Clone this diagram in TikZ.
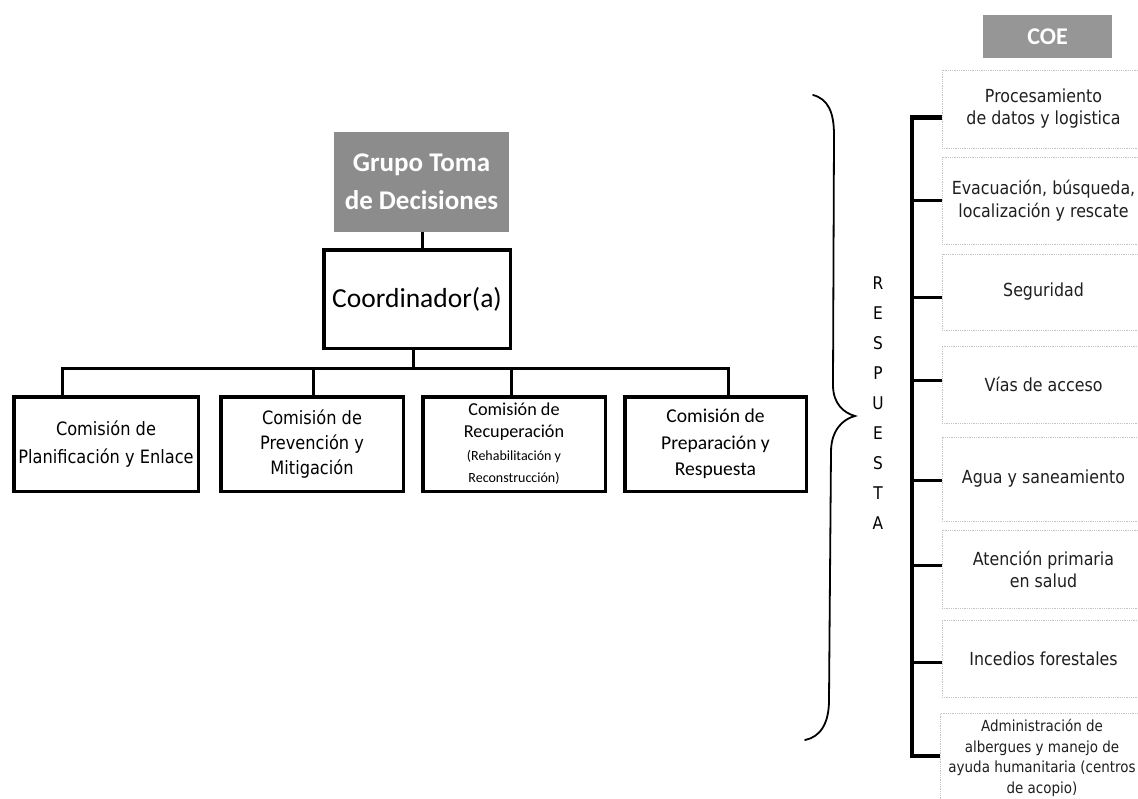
\documentclass[tikz,border=0pt]{standalone}
\usepackage{fontspec}
\newfontfamily\tahfont[FakeStretch=0.88]{DejaVu Sans}
\newfontfamily\califont{Carlito}
\definecolor{boxgray}{RGB}{140,140,140}
\definecolor{coegray}{RGB}{150,150,150}
\definecolor{dotgray}{RGB}{195,195,195}
\begin{document}
\begin{tikzpicture}[x=1pt,y=-1pt,
  graybox/.style={fill=boxgray,draw=none,text=white,inner sep=0pt,align=center},
  coordbox/.style={draw,line width=3.5pt,inner sep=0pt,align=center,line join=miter},
  commbox/.style={draw,line width=3.5pt,inner sep=0pt,align=center,minimum height=94.5pt,line join=miter},
  rbox/.style={draw=dotgray,densely dotted,line width=0.8pt,inner sep=0pt,align=center,minimum width=203pt,text=black!88,
     font={\tahfont\fontsize{18}{22}\selectfont}},
  tree/.style={line width=3pt,line join=miter},
  rbus/.style={line width=4pt,line join=miter},
  tick/.style={line width=3pt},
  bracel/.style={line width=1.8pt,line cap=round}]
\useasboundingbox (0,0) rectangle (1138,798);
\fill[white] (0,0) rectangle (1138,798);

% left tree
\node[graybox,minimum width=175pt,minimum height=100pt,
  font={\califont\bfseries\fontsize{27}{38}\selectfont}] (grupo) at (421.5,182)
  {Grupo Toma\\de Decisiones};
\node[coordbox,minimum width=186.5pt,minimum height=98.5pt,
  font={\califont\fontsize{27.5}{32}\selectfont}] (coord) at (417,299)
  {Coordinador(a)};
\node[commbox,minimum width=184.5pt,font={\tahfont\fontsize{18.4}{28}\selectfont}] (c1) at (106,444)
  {Comisión de\\Planificación y Enlace};
\node[commbox,minimum width=182.5pt,font={\tahfont\fontsize{18.4}{25}\selectfont}] (c2) at (312,444)
  {Comisión de\\Prevención y\\Mitigación};
\node[commbox,minimum width=182.5pt,font={\califont\fontsize{18.2}{22}\selectfont}] (c3) at (514,444)
  {Comisión de\\Recuperación\\[1pt]
   {\fontsize{14}{20}\selectfont (Rehabilitación y}\\{\fontsize{14}{20}\selectfont Reconstrucción)}};
\node[commbox,minimum width=181.5pt,font={\califont\fontsize{19.6}{26.5}\selectfont}] (c4) at (715.5,444)
  {Comisión de\\Preparación y\\Respuesta};

\coordinate (bus) at (413,368);
\draw[tree] ([xshift=0.5pt]grupo.south) -- ([xshift=0.5pt]grupo.south |- coord.north);
\draw[tree] ([xshift=-4pt]coord.south) -- (bus);
\draw[tree] ([xshift=-44pt]c1.north) |- (bus) -| ([xshift=12.5pt]c4.north);
\draw[tree] ([xshift=1pt]c2.north) -- ([xshift=1pt]c2.north |- bus);
\draw[tree] ([xshift=-3pt]c3.north) -- ([xshift=-3pt]c3.north |- bus);

% brace
\draw[bracel] (813,95) .. controls (828,99) and (834,112) .. (834,135)
  -- (833,385) .. controls (833,404) and (844,413) .. (855,416)
  .. controls (843,419) and (831,430) .. (831,452)
  -- (829,700) .. controls (829,724) and (820,737) .. (805,740);

\node[inner sep=0pt,align=center,font={\tahfont\fontsize{17.5}{30}\selectfont}] (resp) at (878,403)
  {R\\E\\S\\P\\U\\E\\S\\T\\A};

% right column
\node[fill=coegray,text=white,minimum width=129pt,minimum height=43pt,inner sep=0pt,
  font={\califont\bfseries\fontsize{24}{28}\selectfont}] (coe) at (1047.5,36.5) {COE};

\node[rbox,minimum height=78pt] (r1) at (1043.5,109) {Procesamiento\\de datos y logistica};
\node[rbox,minimum height=87pt,font={\tahfont\fontsize{18}{23}\selectfont}] (r2) at (1043.5,200.5)
  {Evacuación, búsqueda,\\localización y rescate};
\node[rbox,minimum height=76pt] (r3) at (1043.5,292) {Seguridad};
\node[rbox,minimum height=77pt] (r4) at (1043.5,384.5) {Vías de acceso};
\node[rbox,minimum height=84pt] (r5) at (1043.5,479) {Agua y saneamiento};
\node[rbox,minimum height=78pt] (r6) at (1043.5,569) {Atención primaria\\en salud};
\node[rbox,minimum height=77pt] (r7) at (1043.5,658.5) {Incedios forestales};
\node[rbox,minimum height=90pt,font={\tahfont\fontsize{15.3}{20.5}\selectfont}] (r8) at (1042,758)
  {Administración de\\albergues y manejo de\\ayuda humanitaria (centros\\de acopio)};

\coordinate (bt) at (912,117);
\coordinate (bb) at (912,756);
\draw[line width=5pt] ([yshift=-8pt]r1.west) -- ([xshift=-2pt]bt);
\draw[rbus] (bt) -- (bb) -- (bb -| r8.west);
\draw[tick] (r2.west -| bt) -- (r2.west);
\draw[tick] ([yshift=-5pt]r3.west -| bt) -- ([yshift=-5pt]r3.west);
\draw[tick] ([yshift=4.5pt]r4.west -| bt) -- ([yshift=4.5pt]r4.west);
\draw[tick] ([yshift=-1pt]r5.west -| bt) -- ([yshift=-1pt]r5.west);
\draw[tick] ([yshift=4pt]r6.west -| bt) -- ([yshift=4pt]r6.west);
\draw[tick] ([yshift=-3.5pt]r7.west -| bt) -- ([yshift=-3.5pt]r7.west);
\end{tikzpicture}
\end{document}
